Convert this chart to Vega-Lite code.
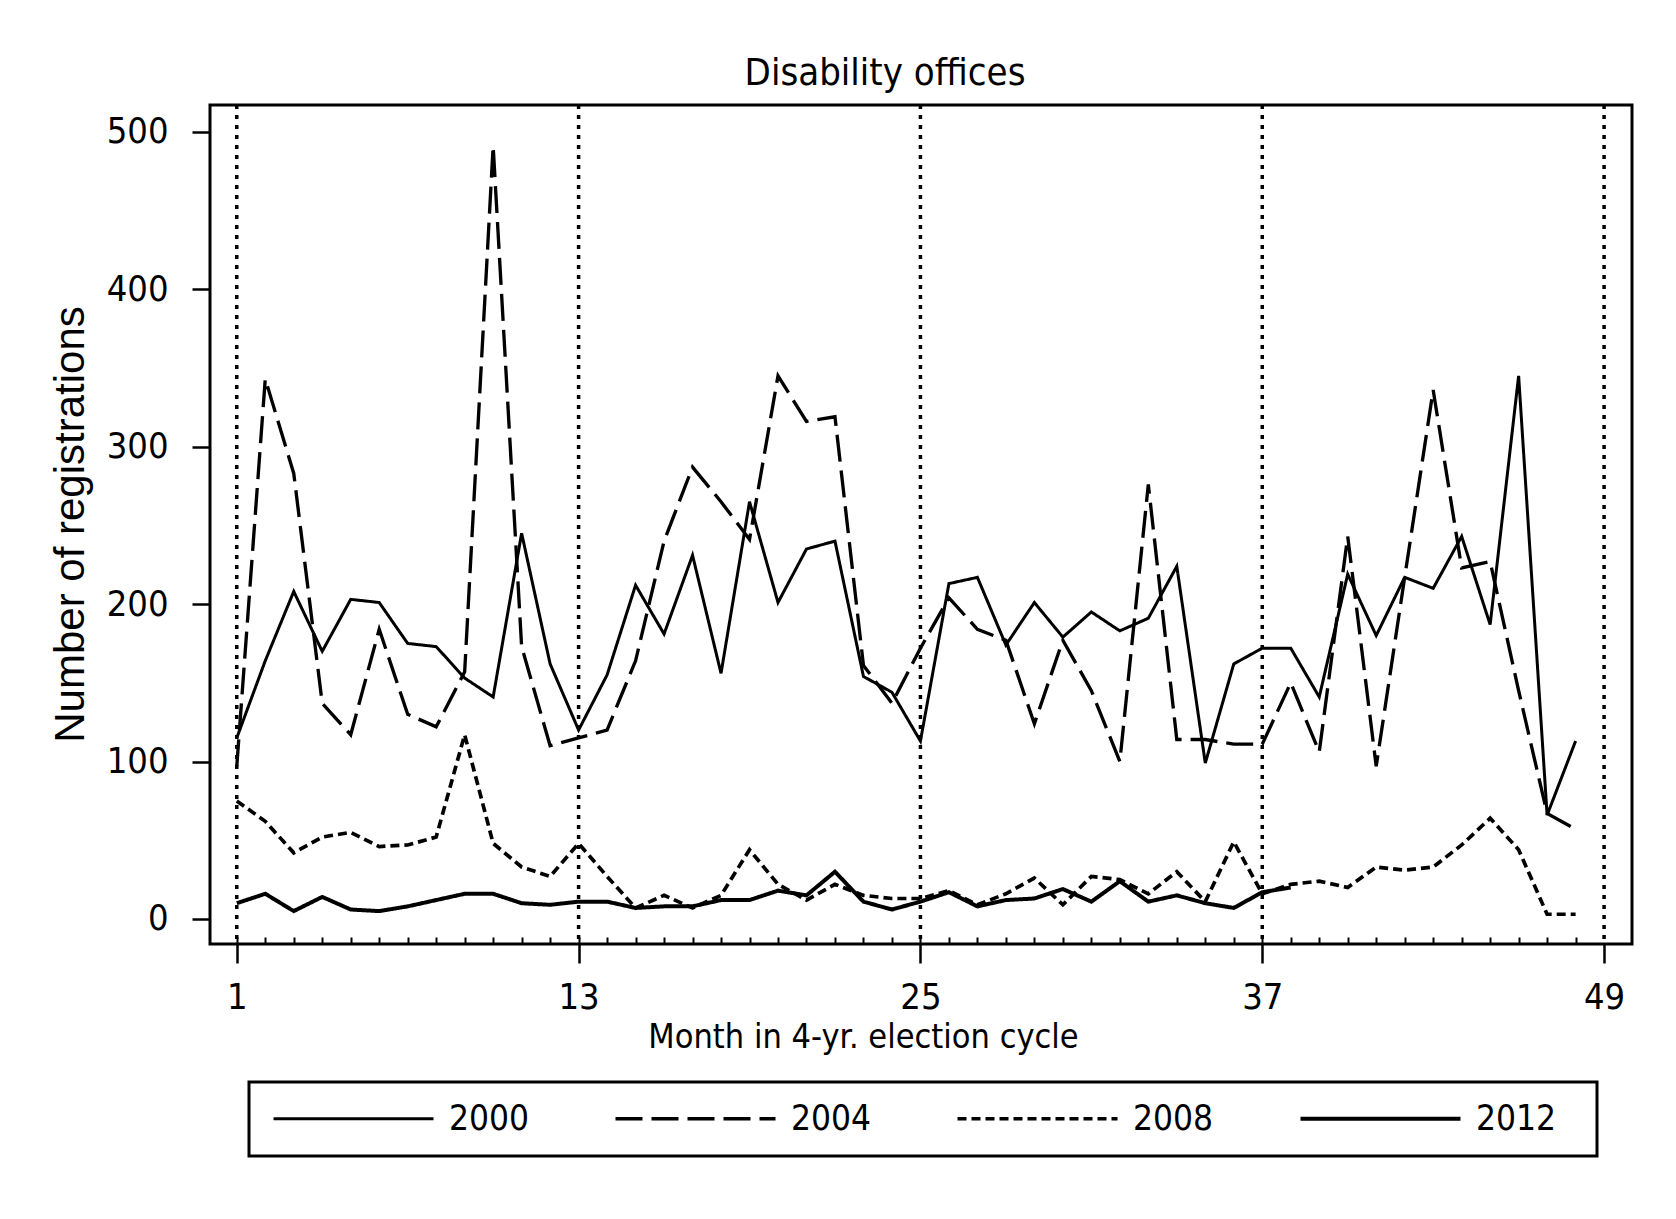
{
  "$schema": "https://vega.github.io/schema/vega-lite/v6.json",
  "width": 1422,
  "height": 839,
  "autosize": {"type": "none"},
  "padding": {"left": 210, "top": 105, "right": 44, "bottom": 275},
  "background": "white",
  "title": {
    "text": "Disability offices",
    "font": "DejaVu Sans Condensed, Liberation Sans, sans-serif",
    "fontSize": 38,
    "fontWeight": "normal",
    "color": "black",
    "anchor": "middle",
    "frame": "group",
    "baseline": "alphabetic",
    "offset": 10,
    "dx": -36,
    "dy": 30
  },
  "datasets": {
    "series": [
      {"month": 1, "series": "2000", "value": 115},
      {"month": 2, "series": "2000", "value": 164},
      {"month": 3, "series": "2000", "value": 208},
      {"month": 4, "series": "2000", "value": 170},
      {"month": 5, "series": "2000", "value": 203},
      {"month": 6, "series": "2000", "value": 201},
      {"month": 7, "series": "2000", "value": 175},
      {"month": 8, "series": "2000", "value": 173},
      {"month": 9, "series": "2000", "value": 153},
      {"month": 10, "series": "2000", "value": 141},
      {"month": 11, "series": "2000", "value": 245},
      {"month": 12, "series": "2000", "value": 162},
      {"month": 13, "series": "2000", "value": 120},
      {"month": 14, "series": "2000", "value": 155},
      {"month": 15, "series": "2000", "value": 212},
      {"month": 16, "series": "2000", "value": 181},
      {"month": 17, "series": "2000", "value": 231},
      {"month": 18, "series": "2000", "value": 156},
      {"month": 19, "series": "2000", "value": 265},
      {"month": 20, "series": "2000", "value": 201},
      {"month": 21, "series": "2000", "value": 235},
      {"month": 22, "series": "2000", "value": 240},
      {"month": 23, "series": "2000", "value": 154},
      {"month": 24, "series": "2000", "value": 144},
      {"month": 25, "series": "2000", "value": 113},
      {"month": 26, "series": "2000", "value": 213},
      {"month": 27, "series": "2000", "value": 217},
      {"month": 28, "series": "2000", "value": 174},
      {"month": 29, "series": "2000", "value": 201},
      {"month": 30, "series": "2000", "value": 179},
      {"month": 31, "series": "2000", "value": 195},
      {"month": 32, "series": "2000", "value": 183},
      {"month": 33, "series": "2000", "value": 191},
      {"month": 34, "series": "2000", "value": 224},
      {"month": 35, "series": "2000", "value": 99},
      {"month": 36, "series": "2000", "value": 162},
      {"month": 37, "series": "2000", "value": 172},
      {"month": 38, "series": "2000", "value": 172},
      {"month": 39, "series": "2000", "value": 141},
      {"month": 40, "series": "2000", "value": 219},
      {"month": 41, "series": "2000", "value": 180},
      {"month": 42, "series": "2000", "value": 217},
      {"month": 43, "series": "2000", "value": 210},
      {"month": 44, "series": "2000", "value": 243},
      {"month": 45, "series": "2000", "value": 187},
      {"month": 46, "series": "2000", "value": 345},
      {"month": 47, "series": "2000", "value": 66},
      {"month": 48, "series": "2000", "value": 113},
      {"month": 1, "series": "2004", "value": 97},
      {"month": 2, "series": "2004", "value": 343},
      {"month": 3, "series": "2004", "value": 283},
      {"month": 4, "series": "2004", "value": 137},
      {"month": 5, "series": "2004", "value": 117},
      {"month": 6, "series": "2004", "value": 184},
      {"month": 7, "series": "2004", "value": 130},
      {"month": 8, "series": "2004", "value": 122},
      {"month": 9, "series": "2004", "value": 157},
      {"month": 10, "series": "2004", "value": 491},
      {"month": 11, "series": "2004", "value": 173},
      {"month": 12, "series": "2004", "value": 110},
      {"month": 13, "series": "2004", "value": 115},
      {"month": 14, "series": "2004", "value": 120},
      {"month": 15, "series": "2004", "value": 164},
      {"month": 16, "series": "2004", "value": 240},
      {"month": 17, "series": "2004", "value": 287},
      {"month": 18, "series": "2004", "value": 265},
      {"month": 19, "series": "2004", "value": 241},
      {"month": 20, "series": "2004", "value": 345},
      {"month": 21, "series": "2004", "value": 316},
      {"month": 22, "series": "2004", "value": 319},
      {"month": 23, "series": "2004", "value": 161},
      {"month": 24, "series": "2004", "value": 137},
      {"month": 25, "series": "2004", "value": 172},
      {"month": 26, "series": "2004", "value": 204},
      {"month": 27, "series": "2004", "value": 184},
      {"month": 28, "series": "2004", "value": 177},
      {"month": 29, "series": "2004", "value": 124},
      {"month": 30, "series": "2004", "value": 177},
      {"month": 31, "series": "2004", "value": 145},
      {"month": 32, "series": "2004", "value": 100},
      {"month": 33, "series": "2004", "value": 276},
      {"month": 34, "series": "2004", "value": 114},
      {"month": 35, "series": "2004", "value": 114},
      {"month": 36, "series": "2004", "value": 111},
      {"month": 37, "series": "2004", "value": 111},
      {"month": 38, "series": "2004", "value": 150},
      {"month": 39, "series": "2004", "value": 106},
      {"month": 40, "series": "2004", "value": 243},
      {"month": 41, "series": "2004", "value": 97},
      {"month": 42, "series": "2004", "value": 217},
      {"month": 43, "series": "2004", "value": 336},
      {"month": 44, "series": "2004", "value": 223},
      {"month": 45, "series": "2004", "value": 227},
      {"month": 46, "series": "2004", "value": 145},
      {"month": 47, "series": "2004", "value": 67},
      {"month": 48, "series": "2004", "value": 57},
      {"month": 1, "series": "2008", "value": 75},
      {"month": 2, "series": "2008", "value": 62},
      {"month": 3, "series": "2008", "value": 42},
      {"month": 4, "series": "2008", "value": 52},
      {"month": 5, "series": "2008", "value": 55},
      {"month": 6, "series": "2008", "value": 46},
      {"month": 7, "series": "2008", "value": 47},
      {"month": 8, "series": "2008", "value": 52},
      {"month": 9, "series": "2008", "value": 117},
      {"month": 10, "series": "2008", "value": 48},
      {"month": 11, "series": "2008", "value": 33},
      {"month": 12, "series": "2008", "value": 27},
      {"month": 13, "series": "2008", "value": 48},
      {"month": 14, "series": "2008", "value": 27},
      {"month": 15, "series": "2008", "value": 7},
      {"month": 16, "series": "2008", "value": 15},
      {"month": 17, "series": "2008", "value": 7},
      {"month": 18, "series": "2008", "value": 15},
      {"month": 19, "series": "2008", "value": 44},
      {"month": 20, "series": "2008", "value": 22},
      {"month": 21, "series": "2008", "value": 12},
      {"month": 22, "series": "2008", "value": 22},
      {"month": 23, "series": "2008", "value": 15},
      {"month": 24, "series": "2008", "value": 13},
      {"month": 25, "series": "2008", "value": 13},
      {"month": 26, "series": "2008", "value": 18},
      {"month": 27, "series": "2008", "value": 9},
      {"month": 28, "series": "2008", "value": 16},
      {"month": 29, "series": "2008", "value": 26},
      {"month": 30, "series": "2008", "value": 9},
      {"month": 31, "series": "2008", "value": 27},
      {"month": 32, "series": "2008", "value": 25},
      {"month": 33, "series": "2008", "value": 16},
      {"month": 34, "series": "2008", "value": 30},
      {"month": 35, "series": "2008", "value": 11},
      {"month": 36, "series": "2008", "value": 49},
      {"month": 37, "series": "2008", "value": 16},
      {"month": 38, "series": "2008", "value": 22},
      {"month": 39, "series": "2008", "value": 24},
      {"month": 40, "series": "2008", "value": 20},
      {"month": 41, "series": "2008", "value": 33},
      {"month": 42, "series": "2008", "value": 31},
      {"month": 43, "series": "2008", "value": 33},
      {"month": 44, "series": "2008", "value": 47},
      {"month": 45, "series": "2008", "value": 64},
      {"month": 46, "series": "2008", "value": 44},
      {"month": 47, "series": "2008", "value": 3},
      {"month": 48, "series": "2008", "value": 3},
      {"month": 1, "series": "2012", "value": 10},
      {"month": 2, "series": "2012", "value": 16},
      {"month": 3, "series": "2012", "value": 5},
      {"month": 4, "series": "2012", "value": 14},
      {"month": 5, "series": "2012", "value": 6},
      {"month": 6, "series": "2012", "value": 5},
      {"month": 7, "series": "2012", "value": 8},
      {"month": 8, "series": "2012", "value": 12},
      {"month": 9, "series": "2012", "value": 16},
      {"month": 10, "series": "2012", "value": 16},
      {"month": 11, "series": "2012", "value": 10},
      {"month": 12, "series": "2012", "value": 9},
      {"month": 13, "series": "2012", "value": 11},
      {"month": 14, "series": "2012", "value": 11},
      {"month": 15, "series": "2012", "value": 7},
      {"month": 16, "series": "2012", "value": 8},
      {"month": 17, "series": "2012", "value": 8},
      {"month": 18, "series": "2012", "value": 12},
      {"month": 19, "series": "2012", "value": 12},
      {"month": 20, "series": "2012", "value": 18},
      {"month": 21, "series": "2012", "value": 15},
      {"month": 22, "series": "2012", "value": 30},
      {"month": 23, "series": "2012", "value": 11},
      {"month": 24, "series": "2012", "value": 6},
      {"month": 25, "series": "2012", "value": 11},
      {"month": 26, "series": "2012", "value": 17},
      {"month": 27, "series": "2012", "value": 8},
      {"month": 28, "series": "2012", "value": 12},
      {"month": 29, "series": "2012", "value": 13},
      {"month": 30, "series": "2012", "value": 19},
      {"month": 31, "series": "2012", "value": 11},
      {"month": 32, "series": "2012", "value": 24},
      {"month": 33, "series": "2012", "value": 11},
      {"month": 34, "series": "2012", "value": 15},
      {"month": 35, "series": "2012", "value": 10},
      {"month": 36, "series": "2012", "value": 7},
      {"month": 37, "series": "2012", "value": 17},
      {"month": 38, "series": "2012", "value": 20}
    ],
    "cycles": [
      {"month": 1}, {"month": 13}, {"month": 25}, {"month": 37}, {"month": 49}
    ]
  },
  "layer": [
    {
      "data": {"name": "series"},
      "mark": {"type": "line", "color": "black", "strokeCap": "butt"},
      "encoding": {
        "x": {
          "field": "month",
          "type": "quantitative",
          "scale": {"domain": [0.06, 49.98], "nice": false, "zero": false},
          "axis": {
            "orient": "bottom",
            "values": [1,2,3,4,5,6,7,8,9,10,11,12,13,14,15,16,17,18,19,20,21,22,23,24,25,26,27,28,29,30,31,32,33,34,35,36,37,38,39,40,41,42,43,44,45,46,47,48],
            "tickSize": -7,
            "tickWidth": 2,
            "tickColor": "black",
            "labels": false,
            "domain": false,
            "grid": false,
            "title": null
          }
        },
        "y": {
          "field": "value",
          "type": "quantitative",
          "scale": {"domain": [-15.9, 517], "nice": false, "zero": false},
          "axis": {
            "values": [0, 100, 200, 300, 400, 500],
            "tickSize": 18,
            "tickWidth": 2.5,
            "tickColor": "black",
            "domain": false,
            "grid": false,
            "labelFont": "DejaVu Sans Condensed, Liberation Sans, sans-serif",
            "labelFontSize": 36,
            "labelColor": "black",
            "labelPadding": 24,
            "labelBaseline": "middle",
            "title": "Number of registrations",
            "titleFont": "Liberation Sans, Arial, sans-serif",
            "titleFontSize": 42,
            "titleFontWeight": "normal",
            "titleColor": "black",
            "titleAngle": 270,
            "titleAlign": "center",
            "titleBaseline": "alphabetic",
            "titleX": -127,
            "titleY": 419
          }
        },
        "strokeDash": {
          "field": "series",
          "type": "nominal",
          "scale": {"domain": ["2000", "2004", "2008", "2012"], "range": [[1, 0], [27, 9], [9, 5], [1, 0]]},
          "legend": {
            "title": " ",
            "titleOrient": "right",
            "titlePadding": 22,
            "titleFontSize": 8,
            "orient": "none",
            "legendX": 39,
            "legendY": 977,
            "direction": "horizontal",
            "columns": 4,
            "symbolType": "M-8,0H8",
            "symbolSize": 400,
            "symbolOffset": 68,
            "symbolStrokeColor": "black",
            "symbolFillColor": "transparent",
            "labelFont": "DejaVu Sans Condensed, Liberation Sans, sans-serif",
            "labelFontSize": 35,
            "labelColor": "black",
            "labelOffset": 78,
            "labelLimit": 400,
            "columnPadding": 78,
            "padding": 19,
            "strokeColor": "black",
            "fillColor": "white",
            "encode": {"legend": {"update": {"strokeWidth": {"value": 3}}}}
          }
        },
        "strokeWidth": {
          "field": "series",
          "type": "nominal",
          "scale": {"domain": ["2000", "2004", "2008", "2012"], "range": [3, 4, 3.5, 5.5]},
          "legend": {
            "title": " ",
            "titleOrient": "right",
            "titlePadding": 22,
            "titleFontSize": 8,
            "orient": "none",
            "legendX": 39,
            "legendY": 977,
            "direction": "horizontal",
            "columns": 4,
            "symbolType": "M-8,0H8",
            "symbolSize": 400,
            "symbolOffset": 68,
            "symbolStrokeColor": "black",
            "symbolFillColor": "transparent",
            "labelFont": "DejaVu Sans Condensed, Liberation Sans, sans-serif",
            "labelFontSize": 35,
            "labelColor": "black",
            "labelOffset": 78,
            "labelLimit": 400,
            "columnPadding": 78,
            "padding": 19,
            "strokeColor": "black",
            "fillColor": "white",
            "encode": {"legend": {"update": {"strokeWidth": {"value": 3}}}}
          }
        },
        "detail": {"field": "series", "type": "nominal"},
        "order": {"field": "month", "type": "quantitative"}
      }
    },
    {
      "data": {"name": "cycles"},
      "mark": {"type": "rule", "color": "black", "strokeWidth": 3.5, "strokeDash": [4, 6]},
      "encoding": {
        "x": {
          "field": "month",
          "type": "quantitative",
          "axis": {
            "orient": "bottom",
            "values": [1, 13, 25, 37, 49],
            "tickSize": 19,
            "tickWidth": 2.5,
            "tickColor": "black",
            "domain": false,
            "grid": false,
            "labelFont": "DejaVu Sans Condensed, Liberation Sans, sans-serif",
            "labelFontSize": 36,
            "labelColor": "black",
            "labelPadding": 17,
            "labelFlush": false,
            "labelOverlap": false,
            "title": "Month in 4-yr. election cycle",
            "titleFont": "DejaVu Sans Condensed, Liberation Sans, sans-serif",
            "titleFontSize": 34,
            "titleFontWeight": "normal",
            "titleColor": "black",
            "titleAlign": "center",
            "titleBaseline": "alphabetic",
            "titleX": 653,
            "titleY": 103
          }
        }
      }
    }
  ],
  "resolve": {"axis": {"x": "independent"}},
  "config": {
    "view": {"stroke": "black", "strokeWidth": 3, "fill": "white"}
  }
}
